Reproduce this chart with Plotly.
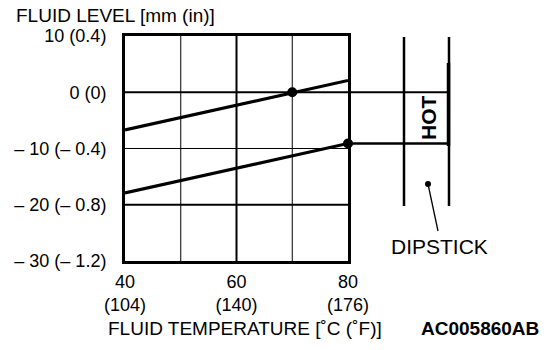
import plotly.graph_objects as go

# ---- data ----
temps_c = [40, 80]
upper_level = [-6.7, 2.1]
lower_level = [-17.9, -9.1]
hot_dot_temp = [70, 80]
hot_dot_level = [0, -9.1]

x_tickvals = [40, 60, 80]
x_ticktext = ["40<br>(104)", "60<br>(140)", "80<br>(176)"]
y_tickvals = [10, 0, -10, -20, -30]
y_ticktext = ["10 (0.4)", "0 (0)", "– 10 (– 0.4)", "– 20 (– 0.8)", "– 30 (– 1.2)"]
thick_x_grid = [60]
thin_x_grid = [50, 70]
thick_y_grid = [-20]
upper_mark_level = 0
lower_mark_level = lower_level[-1]

W, H = 560, 350
L, R, T, B = 125, 348, 36, 261
FONT = "Liberation Sans, Arial, sans-serif"


def px(x):
    return (x - L) / (R - L)


def py(y):
    return (B - y) / (B - T)


fig = go.Figure()
fig.add_trace(go.Scatter(x=temps_c, y=upper_level, mode="lines",
                         line=dict(color="black", width=3.2), showlegend=False))
fig.add_trace(go.Scatter(x=temps_c, y=lower_level, mode="lines",
                         line=dict(color="black", width=3.2), showlegend=False))
fig.add_trace(go.Scatter(x=hot_dot_temp, y=hot_dot_level, mode="markers",
                         marker=dict(color="black", size=10), showlegend=False,
                         cliponaxis=False))

shapes = []
for xv in thick_x_grid:
    shapes.append(dict(type="line", xref="x", yref="paper", x0=xv, x1=xv, y0=0, y1=1,
                       line=dict(color="black", width=2), layer="below"))
for xv in thin_x_grid:
    shapes.append(dict(type="line", xref="x", yref="paper", x0=xv, x1=xv, y0=0, y1=1,
                       line=dict(color="black", width=1), layer="below"))
for yv in thick_y_grid:
    shapes.append(dict(type="line", xref="paper", yref="y", x0=0, x1=1, y0=yv, y1=yv,
                       line=dict(color="black", width=2), layer="below"))
# zero line extended to dipstick
shapes.append(dict(type="line", xref="paper", yref="y", x0=0, x1=px(449), y0=upper_mark_level,
                   y1=upper_mark_level, line=dict(color="black", width=2)))
# lower mark extended to dipstick
shapes.append(dict(type="line", xref="paper", yref="y", x0=1, x1=px(450), y0=lower_mark_level,
                   y1=lower_mark_level, line=dict(color="black", width=2.5)))
# dipstick verticals
shapes.append(dict(type="line", xref="paper", yref="paper", x0=px(404), x1=px(404),
                   y0=py(37), y1=py(206), line=dict(color="black", width=2.5)))
shapes.append(dict(type="line", xref="paper", yref="paper", x0=px(449), x1=px(449),
                   y0=py(37), y1=py(206), line=dict(color="black", width=2.5)))
shapes.append(dict(type="line", xref="paper", yref="paper", x0=px(448.5), x1=px(448.5),
                   y0=py(63), y1=py(146), line=dict(color="black", width=3.5)))
# leader
shapes.append(dict(type="line", xref="paper", yref="paper", x0=px(428), x1=px(438),
                   y0=py(184), y1=py(231), line=dict(color="black", width=1.3)))
shapes.append(dict(type="circle", xref="paper", yref="paper", x0=px(425), x1=px(431),
                   y0=py(181), y1=py(187), fillcolor="black", line=dict(color="black", width=0)))

annotations = [
    dict(text="FLUID LEVEL [mm (in)]", xref="paper", yref="paper", x=px(14), y=py(15),
         xanchor="left", yanchor="middle", showarrow=False, font=dict(size=19, color="black", family=FONT)),
    dict(text="FLUID TEMPERATURE [˚C (˚F)]", xref="paper", yref="paper", x=px(245), y=py(328),
         xanchor="center", yanchor="middle", showarrow=False, font=dict(size=19, color="black", family=FONT)),
    dict(text="<b>AC005860AB</b>", xref="paper", yref="paper", x=px(480), y=py(328),
         xanchor="center", yanchor="middle", showarrow=False, font=dict(size=19, color="black", family=FONT)),
    dict(text="DIPSTICK", xref="paper", yref="paper", x=px(439), y=py(246),
         xanchor="center", yanchor="middle", showarrow=False, font=dict(size=21, color="black", family=FONT)),
    dict(text="<b>HOT</b>", xref="paper", yref="paper", x=px(428), y=py(118), textangle=-90,
         xanchor="center", yanchor="middle", showarrow=False, font=dict(size=21, color="black", family=FONT)),
]

fig.update_layout(
    width=W, height=H,
    margin=dict(l=L, r=W - R, t=T, b=H - B, pad=0),
    paper_bgcolor="white", plot_bgcolor="white",
    font=dict(family=FONT, size=18, color="black"),
    shapes=shapes, annotations=annotations,
    xaxis=dict(range=[40, 80], tickvals=x_tickvals, ticktext=x_ticktext,
               showgrid=False,
               showline=True, linecolor="black", linewidth=3, mirror=True,
               ticks="", zeroline=False, ticklabelstandoff=2),
    yaxis=dict(range=[-30, 10], tickvals=y_tickvals, ticktext=y_ticktext,
               showgrid=True, gridcolor="black", gridwidth=1,
               showline=True, linecolor="black", linewidth=3, mirror=True,
               ticks="", zeroline=False, ticklabelstandoff=12),
)

fig.write_html("out.html")
